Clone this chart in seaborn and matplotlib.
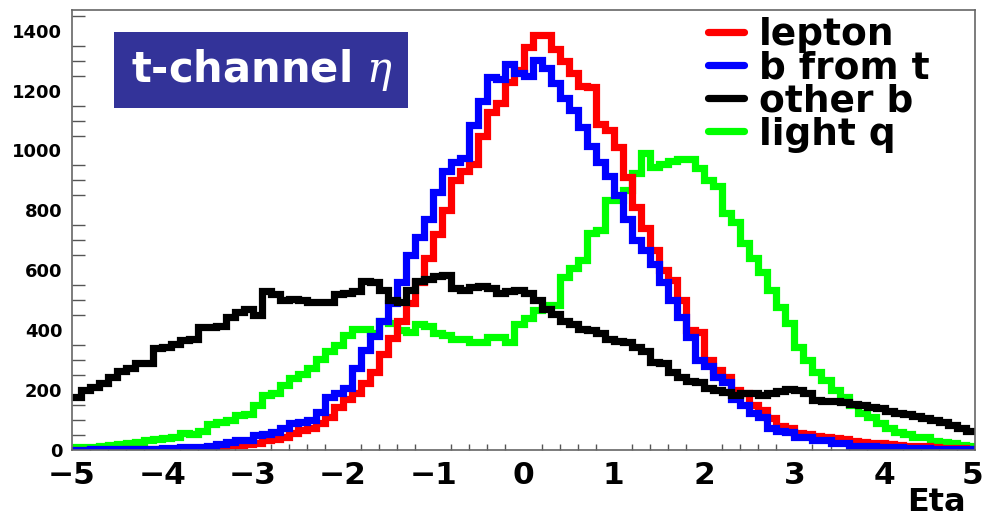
import numpy as np
import pandas as pd
import matplotlib
matplotlib.use("Agg")
import matplotlib.pyplot as plt
import matplotlib.transforms as mtransforms
import seaborn as sns
from matplotlib.lines import Line2D
from matplotlib.patches import Rectangle
from matplotlib.ticker import MultipleLocator

# ---- data (bin contents, 100 bins of width 0.1 from -5 to 5) ----
bin_lo, bin_hi, n_bins = -5.0, 5.0, 100

lepton = [0, 0, 1, 1, 1, 1, 2, 2, 2, 2, 3, 3, 3,
          3, 5, 8, 12, 17, 18, 20, 25, 33, 36, 45, 56,
          67, 75, 89, 111, 145, 170, 190, 225, 260, 320, 375, 430, 490,
          560, 640, 720, 800, 900, 930, 955, 1050, 1130, 1160, 1230, 1270,
          1345, 1386, 1386, 1340, 1300, 1260, 1215, 1213, 1090, 1068, 1010, 913, 812,
          740, 668, 600, 568, 501, 401, 395, 300, 267, 245, 200, 189,
          150, 134, 106, 80, 75, 58, 55, 48, 45, 40, 36, 30, 28,
          25, 22, 20, 18, 15, 14, 12, 10, 8, 7, 6, 5]

b_from_t = [1, 1, 2, 2, 2, 3, 3, 4, 4, 5, 6, 7, 9,
            11, 11, 13, 20, 28, 33, 35, 50, 55, 61, 72, 89,
            95, 100, 128, 178, 189, 206, 273, 334, 380, 430, 490, 560, 650,
            710, 770, 860, 930, 960, 975, 1085, 1165, 1245, 1240, 1290, 1260,
            1250, 1302, 1275, 1225, 1175, 1135, 1080, 1015, 960, 915, 850, 770, 700,
            668, 620, 560, 501, 445, 378, 300, 280, 245, 228, 170, 150,
            125, 111, 72, 65, 60, 45, 42, 35, 33, 25, 22, 15, 13,
            12, 11, 10, 9, 8, 7, 6, 5, 5, 4, 4, 3]

other_b = [178, 200, 211, 225, 245, 265, 275, 289, 290, 340, 345, 355, 367,
           370, 410, 412, 415, 445, 460, 470, 450, 530, 520, 500, 505,
           500, 495, 495, 495, 520, 525, 530, 565, 560, 535, 500, 495, 535,
           565, 570, 580, 585, 540, 535, 545, 548, 540, 525, 530, 535,
           525, 500, 470, 455, 430, 420, 405, 400, 390, 370, 365, 360, 345,
           330, 295, 290, 262, 245, 230, 228, 206, 200, 195, 185, 190,
           190, 185, 190, 198, 203, 200, 190, 167, 165, 162, 160, 155, 150,
           145, 140, 130, 122, 120, 112, 108, 100, 95, 85, 75, 65]

light_q = [10, 10, 10, 12, 18, 20, 24, 28, 33, 38, 40, 45, 58,
           55, 62, 88, 95, 100, 117, 120, 150, 185, 190, 217, 240,
           255, 275, 305, 330, 350, 385, 405, 405, 390, 430, 425, 400, 395,
           420, 415, 390, 385, 372, 372, 360, 362, 378, 378, 360, 420,
           440, 467, 484, 484, 579, 607, 634, 724, 735, 835, 835, 868, 924,
           991, 945, 955, 965, 972, 972, 940, 900, 880, 790, 760, 690,
           640, 595, 534, 478, 423, 345, 300, 262, 234, 200, 178, 150, 122,
           110, 89, 75, 61, 55, 45, 42, 30, 28, 22, 17, 12]

labels = ["lepton", "b from t", "other b", "light q"]
colors = ["#ff0000", "#0000ff", "#000000", "#00ff00"]
x_ticks = [-5, -4, -3, -2, -1, 0, 1, 2, 3, 4, 5]
y_ticks = [0, 200, 400, 600, 800, 1000, 1200, 1400]

width = (bin_hi - bin_lo) / n_bins
centers = bin_lo + width * (np.arange(n_bins) + 0.5)
series = dict(zip(labels, [lepton, b_from_t, other_b, light_q]))
df = pd.concat([pd.DataFrame({"eta": centers, "count": series[l], "source": l})
                for l in labels], ignore_index=True)
cmap = dict(zip(labels, colors))

# ---- figure ----
sns.set_theme(style="white")
plt.rcParams["font.family"] = ["DejaVu Sans"]
plt.rcParams["mathtext.fontset"] = "dejavuserif"
plt.rcParams["text.color"] = "black"

W, H = 983, 520
fig = plt.figure(figsize=(W / 100, H / 100), dpi=100)
fig.patch.set_facecolor("white")
ax = fig.add_axes([72 / W, 1 - 450 / H, (975 - 72) / W, (450 - 10) / H])
ax.set_facecolor("white")

draw_order = ["light q", "lepton", "b from t", "other b"]
for lab in draw_order:
    sub = df[df["source"] == lab]
    sns.histplot(data=sub, x="eta", weights="count", bins=n_bins,
                 binrange=(bin_lo, bin_hi),
                 element="step", fill=False, color=cmap[lab], linewidth=5.2,
                 ax=ax, legend=False)
for ln in ax.lines:
    ln.set_solid_joinstyle("miter")
    ln.set_solid_capstyle("butt")

ax.set_xlim(bin_lo, bin_hi)
ax.set_ylim(0, 1469)
ax.set_xticks(x_ticks)
ax.set_xticklabels([str(t).replace("-", "\u2212") for t in x_ticks])
ax.set_yticks(y_ticks)
ax.set_yticklabels([str(t) for t in y_ticks])
ax.xaxis.set_minor_locator(MultipleLocator(0.2))
ax.yaxis.set_minor_locator(MultipleLocator(50))
ax.tick_params(axis="x", which="major", direction="in", length=8.5, width=1,
               color="#555555", pad=8, labelsize=22.5)
ax.tick_params(axis="x", which="minor", direction="in", length=4.3, width=1,
               color="#555555", bottom=True)
ax.tick_params(axis="y", which="major", direction="in", length=19.5, width=1,
               color="#555555", pad=7, labelsize=13)
ax.tick_params(axis="y", which="minor", direction="in", length=9.5, width=1,
               color="#555555", left=True)
for t in ax.get_xticklabels() + ax.get_yticklabels():
    t.set_fontweight("bold")
    t.set_color("black")
# keep the last x label inside the canvas, as in the reference
last = ax.get_xticklabels()[-1]
last.set_horizontalalignment("right")
last.set_transform(last.get_transform() +
                   mtransforms.ScaledTranslation(8 / 100, 0, fig.dpi_scale_trans))
for s in ax.spines.values():
    s.set_visible(True)
    s.set_color("#666666")
    s.set_linewidth(1.2)

ax.set_xlabel("")
ax.set_ylabel("")
fig.text(966 / W, 1 - 518 / H, "Eta", ha="right", va="bottom",
         fontsize=23, fontweight="bold", color="black")

# title box
fig.patches.append(Rectangle((114 / W, 1 - 108 / H), (408 - 114) / W, (108 - 32) / H,
                             transform=fig.transFigure, facecolor="#333399",
                             edgecolor="none", zorder=5))
fig.text(262 / W, 1 - 70 / H, "t-channel $\\eta$", ha="center", va="center",
         fontsize=30, fontweight="bold", color="white", zorder=6)

# legend
handles = [Line2D([0], [0], color=cmap[l], lw=5.2) for l in labels]
leg = ax.legend(handles, labels, loc="upper left",
                bbox_to_anchor=(708 / W, 1 - 17 / H), bbox_transform=fig.transFigure,
                frameon=False, borderpad=0, borderaxespad=0, handlelength=0.95,
                handletextpad=0.42, labelspacing=-0.075, labelcolor="black",
                prop={"weight": "bold", "size": 27})

fig.savefig("out.png", dpi=100, facecolor="white")
